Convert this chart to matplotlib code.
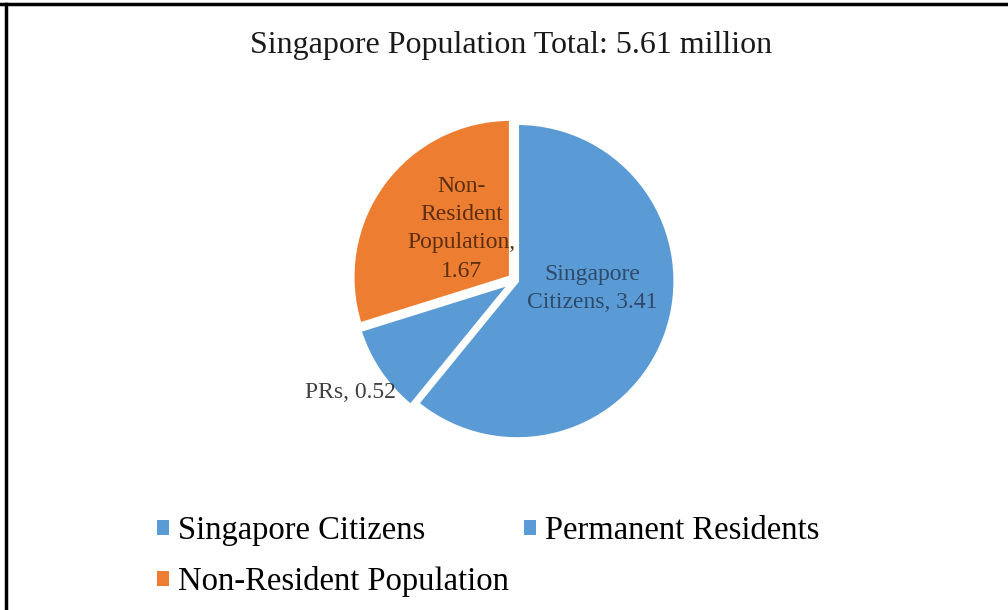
import matplotlib.pyplot as plt
from matplotlib.lines import Line2D
from matplotlib.patches import Patch
import numpy as np

plt.rcParams['font.family'] = ['Liberation Serif', 'DejaVu Serif']

# data (millions)
categories = ['Singapore Citizens', 'Permanent Residents', 'Non-Resident Population']
values = [3.41, 0.52, 1.67]
slice_labels = ['Singapore\nCitizens, 3.41', 'PRs, 0.52', 'Non-\nResident\nPopulation,\n1.67']
total = 5.61

colors = ['#5B9BD5', '#5B9BD5', '#ED7D31']
label_colors = ['#2E4A6B', '#404040', '#5A2E0E']

fig = plt.figure(figsize=(10.08, 6.1), dpi=100)

# pie axes placed so the pie sits at the same spot as the reference
ax = fig.add_axes([0.323, 0.230, 0.376, 0.621])
wedges, _ = ax.pie(values, colors=colors, startangle=90, counterclock=False,
                   explode=[0.015, 0.035, 0.035],
                   wedgeprops=dict(edgecolor='white', linewidth=2.5))
ax.set_xlim(-1.2, 1.2)
ax.set_ylim(-1.2, 1.2)
ax.set_aspect('equal')
ax.axis('off')

# label radius / angle tweaks (Excel "best fit" placement)
label_r = [0.49, 1.26, 0.47]
label_ang = [-6, 214.2, 136]
for txt, r, a, c in zip(slice_labels, label_r, label_ang, label_colors):
    t = np.deg2rad(a)
    ax.text(r * np.cos(t), r * np.sin(t), txt, ha='center', va='center',
            fontsize=17, color=c, linespacing=1.45)

fig.text(0.507, 0.925, f'Singapore Population Total: {total} million',
         ha='center', va='center', fontsize=23, color='#1a1a1a')

handles = [Patch(facecolor=c) for c in colors]
order = [0, 2, 1]
fig.legend([handles[i] for i in order], [categories[i] for i in order],
           ncol=2, loc='upper left', bbox_to_anchor=(0.127, 0.203),
           frameon=False, fontsize=23.5, handlelength=0.36, handleheight=0.36,
           handletextpad=0.28, columnspacing=0.45, labelspacing=0.62)

# frame lines (top and left only, as in the reference)
fig.add_artist(Line2D([0, 1], [0.994, 0.994], color='black', lw=2.5, transform=fig.transFigure))
fig.add_artist(Line2D([0.006, 0.006], [0, 0.994], color='black', lw=2.5, transform=fig.transFigure))

fig.savefig('out.png', dpi=100)
